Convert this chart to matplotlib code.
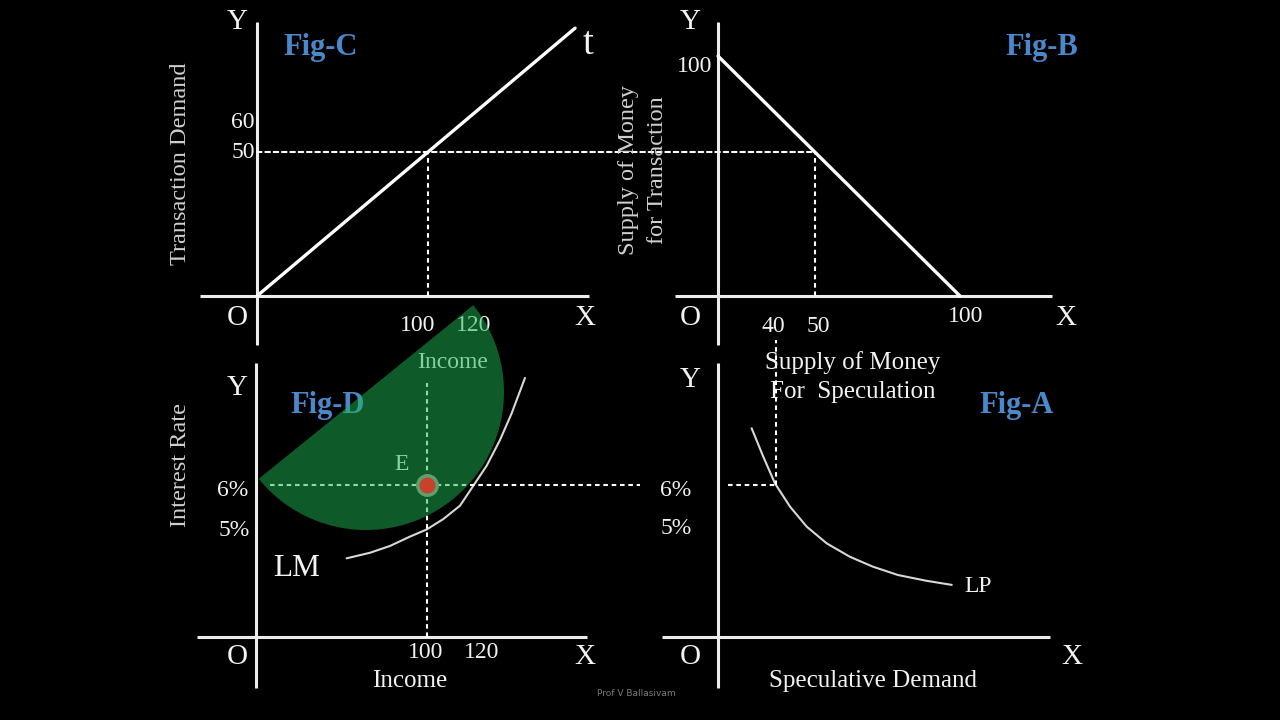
import matplotlib
matplotlib.use("Agg")
import matplotlib.pyplot as plt
from matplotlib.patches import Polygon, ConnectionPatch
from matplotlib.lines import Line2D
import numpy as np

plt.rcParams['font.family'] = ['Liberation Serif', 'DejaVu Serif']

# ---------------- data ----------------
# Fig-C : transaction demand line  (income -> transaction demand)
t_income = [0, 186]
t_demand = [0, 93]
c_eq_income, c_eq_demand = 100, 50

# Fig-B : supply of money for transaction vs for speculation
b_spec = [0, 100]
b_trans = [100, 0]
b_eq_spec, b_eq_trans = 40, 60

# Fig-D : LM curve (income, interest rate %)
lm_income = [53.0, 66.7, 78.4, 90.1, 99.8, 109.5, 119.3, 127.1, 134.9, 142.7, 149.5, 157.3]
lm_rate = [3.11, 3.33, 3.60, 3.97, 4.25, 4.66, 5.19, 5.98, 6.77, 7.79, 8.84, 10.24]
e_income, e_rate = 100, 6.0

# Fig-A : liquidity preference curve (speculative demand, interest rate %)
lp_spec = [23.2, 31.2, 39.3, 49.7, 61.2, 75.0, 91.0, 106.8, 124.1, 143.9, 161.2]
lp_rate = [8.25, 7.13, 6.07, 5.15, 4.36, 3.70, 3.17, 2.78, 2.45, 2.22, 2.06]
a_eq_spec, a_eq_rate = 40, 6.0

# ---------------- layout ----------------
W, H = 1280, 720
fig = plt.figure(figsize=(12.8, 7.2), dpi=100, facecolor='black')

PANELS = {
    'C': dict(origin=(257, 296), scale=(1.71, 2.88), box=(0, 0, 640, 350)),
    'B': dict(origin=(718, 296), scale=(2.42, 2.40), box=(640, 0, 1280, 350)),
    'D': dict(origin=(256, 637), scale=(1.71, 25.3), box=(0, 350, 640, 720)),
    'A': dict(origin=(718, 637), scale=(1.45, 25.3), box=(640, 350, 1280, 720)),
}
AX_EXT = {
    'C': ((200, 589), (22, 345)),
    'B': ((675, 1052), (22, 345)),
    'D': ((197, 587), (363, 688)),
    'A': ((662, 1050), (363, 688)),
}

def px2d(key, x, y):
    p = PANELS[key]
    (ox, oy), (sx, sy) = p['origin'], p['scale']
    return (x - ox) / sx, (oy - y) / sy

def make_panel(key):
    p = PANELS[key]
    l, t, r, b = p['box']
    ax = fig.add_axes([l / W, 1 - b / H, (r - l) / W, (b - t) / H])
    x0, y0 = px2d(key, l, b)
    x1, y1 = px2d(key, r, t)
    ax.set_xlim(x0, x1)
    ax.set_ylim(y0, y1)
    ax.set_axis_off()
    ax.patch.set_alpha(0)
    (ex0, ex1), (ey0, ey1) = AX_EXT[key]
    dx0, _ = px2d(key, ex0, 0)
    dx1, _ = px2d(key, ex1, 0)
    _, dy0 = px2d(key, 0, ey1)
    _, dy1 = px2d(key, 0, ey0)
    ax.plot([dx0, dx1], [0, 0], color='#ececec', lw=2.2, clip_on=False, solid_capstyle='butt')
    ax.plot([0, 0], [dy0, dy1], color='#ececec', lw=2.2, clip_on=False, solid_capstyle='butt')
    return ax

axC = make_panel('C')
axB = make_panel('B')
axD = make_panel('D')
axA = make_panel('A')

DASH = dict(color='white', lw=1.5, linestyle=(0, (2.2, 1.8)), clip_on=False)
CURVE = dict(color='#d8d8d8', lw=1.5, clip_on=False, solid_joinstyle='round',
             solid_capstyle='round')

# Fig-C
axC.plot(t_income, t_demand, color='white', lw=2.4, clip_on=False, solid_capstyle='round')
axC.plot([c_eq_income, c_eq_income], [0, c_eq_demand], **DASH)
con = ConnectionPatch(xyA=(0, c_eq_demand), coordsA=axC.transData,
                      xyB=(b_eq_spec, b_eq_trans), coordsB=axB.transData,
                      color='white', lw=1.5, linestyle=(0, (2.2, 1.8)))
fig.add_artist(con)

# Fig-B
axB.plot(b_spec, b_trans, color='white', lw=2.4, clip_on=False, solid_capstyle='round')
axB.plot([b_eq_spec, b_eq_spec], [0, b_eq_trans], **DASH)

# Fig-D
axD.plot(lm_income, lm_rate, **CURVE)
d_left, _ = px2d('D', 270, 0)
d_right, _ = px2d('D', 640, 0)
_, d_top = px2d('D', 0, 383)
axD.plot([d_left, d_right], [e_rate, e_rate], **DASH)
axD.plot([e_income, e_income], [0, d_top], **DASH)

# Fig-A
axA.plot(lp_spec, lp_rate, **CURVE)
a_left, _ = px2d('A', 728, 0)
_, a_top = px2d('A', 0, 340)
axA.plot([a_left, a_eq_spec], [a_eq_rate, a_eq_rate], **DASH)
axA.plot([a_eq_spec, a_eq_spec], [a_eq_rate, a_top], **DASH)

# ---------------- texts ----------------
WHITE = '#f2f2f2'
GREY = '#d0d0d0'
BLUE = '#4a88cc'

def T(x, y, s, size=17, color=WHITE, **kw):
    fig.text(x / W, 1 - y / H, s, ha='center', va='center', fontsize=size, color=color, **kw)

# Fig-C
T(237, 22, 'Y', 21)
T(321, 47, 'Fig-C', 22, BLUE, fontweight='bold')
T(588, 45, 't', 28)
T(243, 122, '60')
T(243, 153, '50')
T(180, 164, 'Transaction Demand', 17.5, GREY, rotation=90)
T(237, 318, 'O', 21)
T(585, 318, 'X', 21)
T(418, 326, '100')
T(474, 326, '120')
T(453, 362, 'Income')

# Fig-B
T(690, 22, 'Y', 21)
T(1042, 47, 'Fig-B', 22, BLUE, fontweight='bold')
T(695, 67, '100')
T(643, 170, 'Supply of Money\nfor Transaction', 17.5, GREY, rotation=90,
  multialignment='center', linespacing=1.5)
T(690, 318, 'O', 21)
T(1066, 318, 'X', 21)
T(773, 327, '40')
T(818, 327, '50')
T(966, 317, '100')
T(853, 377, 'Supply of Money\nFor  Speculation', 18, WHITE,
  multialignment='center', linespacing=1.4)

# Fig-D
T(237, 388, 'Y', 21)
T(328, 405, 'Fig-D', 22, BLUE, fontweight='bold')
T(402, 465, 'E', 17)
T(181, 465, 'Interest Rate', 17.5, GREY, rotation=90)
T(233, 490, '6%')
T(234, 531, '5%')
T(297, 569, 'LM', 22.5)
T(237, 657, 'O', 21)
T(585, 657, 'X', 21)
T(426, 652, '100')
T(482, 652, '120')
T(410, 681, 'Income', 18)

# Fig-A
T(690, 380, 'Y', 21)
T(1017, 406, 'Fig-A', 22, BLUE, fontweight='bold')
T(676, 490, '6%')
T(676, 529, '5%')
T(978, 587, 'LP', 17)
T(690, 657, 'O', 21)
T(1072, 657, 'X', 21)
T(873, 681, 'Speculative Demand', 18)
T(636, 693, 'Prof V Ballasivam', 6.5, '#7a7a7a', family=['DejaVu Sans'])

# ---------------- green half-disc overlay + equilibrium point ----------------
cxp, cyp, rp = 366, 392, 138
theta = np.radians(np.linspace(39, -141, 120))
gx = [px2d('D', cxp + rp * np.cos(a), cyp - rp * np.sin(a))[0] for a in theta]
gy = [px2d('D', cxp + rp * np.cos(a), cyp - rp * np.sin(a))[1] for a in theta]
half_disc = Polygon(np.column_stack([gx, gy]), closed=True, transform=axD.transData,
                    facecolor=(28 / 255, 180 / 255, 80 / 255), alpha=0.5,
                    edgecolor='none', zorder=4)
fig.add_artist(half_disc)

fig.add_artist(Line2D([e_income], [e_rate], transform=axD.transData, marker='o',
                      markersize=14, markerfacecolor='#c8412a',
                      markeredgecolor='#5f9e6e', markeredgewidth=2.5,
                      linestyle='none', zorder=5))

fig.savefig('out.png', dpi=100, facecolor='black')
